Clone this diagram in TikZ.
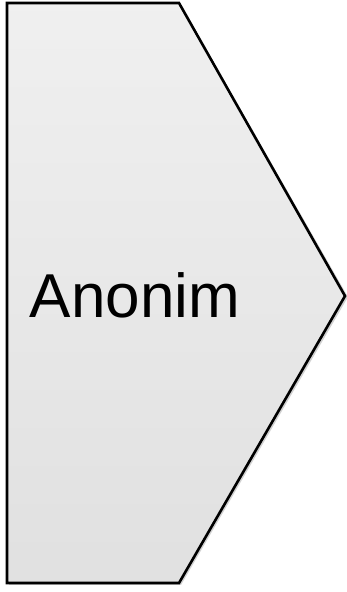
\documentclass[tikz,border=0pt]{standalone}
\usepackage{fontspec}
\setmainfont{Liberation Sans}
\begin{document}
\begin{tikzpicture}[x=1pt,y=1pt,
  arrowshape/.style={draw=black,line width=2.6pt,line join=miter,top color=gray!12,bottom color=gray!24},
  shadowshape/.style={fill=black,opacity=0.18}]
\useasboundingbox (0,0) rectangle (347,592);
\fill[shadowshape] (9,587) -- (181,587) -- (348,295) -- (181,7) -- (9,7) -- cycle;
\draw[arrowshape] (7,589) -- (179,589) -- (345,296) -- (179,9) -- (7,9) -- cycle;
\node[anchor=base,font=\fontsize{62}{62}\selectfont,inner sep=0pt] (label) at (135,274) {Anonim};
\end{tikzpicture}
\end{document}
